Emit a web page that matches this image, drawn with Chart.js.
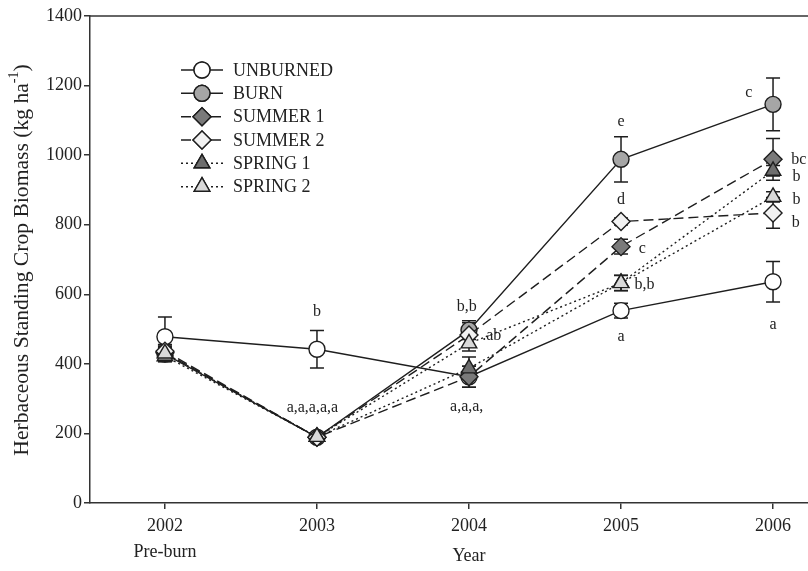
<!DOCTYPE html>
<html>
<head>
<meta charset="utf-8">
<script src="https://cdn.jsdelivr.net/npm/chart.js@4.4.1/dist/chart.umd.min.js"></script>
<style>
html,body{margin:0;padding:0;background:#fff;}
canvas{display:block;}
</style>
</head>
<body>
<canvas id="c" width="808" height="571"></canvas>
<script>
// ---- data ----
const years = [2002, 2003, 2004, 2005, 2006];
const yTicks = [0, 200, 400, 600, 800, 1000, 1200, 1400];
const seriesNames = ['UNBURNED', 'BURN', 'SUMMER 1', 'SUMMER 2', 'SPRING 1', 'SPRING 2'];
const unburned    = [478, 442, 363, 553, 636];
const unburnedErr = [57, 54, 30, 21, 58];
const burn        = [428, 189, 497, 988, 1146];
const burnErr     = [22, 8, 27, 65, 76];
const summer1     = [432, 189, 363, 737, 988];
const summer1Err  = [22, 8, 30, 21, 60];
const summer2     = [436, 189, 483, 809, 834];
const summer2Err  = [20, 8, 35, 10, 44];
const spring1     = [422, 190, 387, 633, 955];
const spring1Err  = [15, 8, 33, 22, 15];
const spring2     = [430, 190, 459, 632, 880];
const spring2Err  = [16, 8, 22, 22, 15];

// significance letters (text, year position, value position)
const letterText = ['b', 'a,a,a,a,a', 'b,b', '.ab', 'a,a,a,', 'e', 'd', 'c', 'b,b', 'a', 'c', 'bc', 'b', 'b', 'b', 'a'];
const letterX    = [2003, 2002.97, 2003.985, 2004.15, 2003.985, 2005, 2005, 2005.14, 2005.155, 2005, 2005.84, 2006.17, 2006.155, 2006.155, 2006.15, 2006];
const letterY    = [550, 273, 564, 480, 277, 1096, 871, 732, 627, 478, 1178, 988, 938, 871, 806, 512];

const FONT = '"Liberation Serif", "Times New Roman", serif';
const INK = '#1e1e1e';

const styles = [
  {style: 'circle',  fill: '#ffffff', dash: [],      r: 8},
  {style: 'circle',  fill: '#a6a6a6', dash: [],      r: 8},
  {style: 'rectRot', fill: '#7a7a7a', dash: [10, 5], r: 9},
  {style: 'rectRot', fill: '#f2f2f2', dash: [10, 5], r: 9},
  {style: 'triangle',fill: '#6e6e6e', dash: [2, 3],  r: 9},
  {style: 'triangle',fill: '#d9d9d9', dash: [2, 3],  r: 9}
];
const values = [unburned, burn, summer1, summer2, spring1, spring2];
const errors = [unburnedErr, burnErr, summer1Err, summer2Err, spring1Err, spring2Err];

const datasets = seriesNames.map((name, i) => ({
  label: name,
  data: years.map((yr, j) => ({x: yr, y: values[i][j]})),
  err: errors[i],
  order: seriesNames.length - i,
  showLine: true,
  clip: false,
  borderColor: INK,
  borderWidth: 1.4,
  borderDash: styles[i].dash,
  backgroundColor: styles[i].fill,
  pointStyle: styles[i].style,
  pointRadius: styles[i].r,
  pointBackgroundColor: styles[i].fill,
  pointBorderColor: INK,
  pointBorderWidth: 1.4,
  tension: 0
}));

const errorBars = {
  id: 'errorBars',
  beforeDatasetsDraw(chart) {
    const {ctx, scales: {x, y}} = chart;
    ctx.save();
    ctx.strokeStyle = INK;
    ctx.lineWidth = 1.5;
    ctx.setLineDash([]);
    chart.data.datasets.forEach(ds => {
      ds.data.forEach((p, j) => {
        const e = ds.err[j];
        const px = x.getPixelForValue(p.x);
        const yt = y.getPixelForValue(p.y + e);
        const yb = y.getPixelForValue(p.y - e);
        ctx.beginPath();
        ctx.moveTo(px, yt); ctx.lineTo(px, yb);
        ctx.moveTo(px - 7, yt); ctx.lineTo(px + 7, yt);
        ctx.moveTo(px - 7, yb); ctx.lineTo(px + 7, yb);
        ctx.stroke();
      });
    });
    ctx.restore();
  }
};

function drawMarker(ctx, st, cx, cy) {
  ctx.save();
  ctx.fillStyle = st.fill;
  ctx.strokeStyle = INK;
  ctx.lineWidth = 1.4;
  ctx.setLineDash([]);
  if (Chart.helpers && Chart.helpers.drawPoint) {
    Chart.helpers.drawPoint(ctx, {pointStyle: st.style, radius: st.r, rotation: 0, borderWidth: 1.4}, cx, cy);
    ctx.fill();
    ctx.stroke();
  }
  ctx.restore();
}

const overlay = {
  id: 'overlay',
  afterDraw(chart) {
    const {ctx, chartArea: a, scales: {x, y}} = chart;
    ctx.save();
    // top frame line
    ctx.strokeStyle = '#333';
    ctx.lineWidth = 1.5;
    ctx.beginPath();
    ctx.moveTo(a.left, a.top); ctx.lineTo(a.right, a.top);
    ctx.stroke();

    // letters
    ctx.fillStyle = '#222';
    ctx.font = '16px ' + FONT;
    ctx.textAlign = 'center';
    ctx.textBaseline = 'middle';
    letterText.forEach((t, i) => {
      ctx.fillText(t, x.getPixelForValue(letterX[i]), y.getPixelForValue(letterY[i]));
    });

    // legend
    const rowY = [70, 93.3, 116.7, 140, 163.3, 186.7];
    seriesNames.forEach((name, i) => {
      const st = styles[i];
      ctx.save();
      ctx.strokeStyle = INK;
      ctx.lineWidth = 1.4;
      ctx.setLineDash(st.dash);
      ctx.beginPath();
      ctx.moveTo(181, rowY[i]); ctx.lineTo(223, rowY[i]);
      ctx.stroke();
      ctx.restore();
      drawMarker(ctx, st, 202, rowY[i]);
      ctx.fillStyle = '#222';
      ctx.textAlign = 'left';
      ctx.textBaseline = 'middle';
      ctx.font = '18px ' + FONT;
      ctx.fillText(name, 233, rowY[i] + 1);
    });

    // x title
    ctx.textAlign = 'center';
    ctx.font = '18px ' + FONT;
    ctx.fillText('Year', x.getPixelForValue(2004), 556);

    // y title with superscript
    ctx.save();
    ctx.translate(22, 260);
    ctx.rotate(-Math.PI / 2);
    ctx.textAlign = 'left';
    ctx.textBaseline = 'middle';
    const mainF = '21.6px ' + FONT, supF = '14px ' + FONT;
    const p1 = 'Herbaceous Standing Crop Biomass (kg ha', p2 = '-1', p3 = ')';
    ctx.font = mainF; const w1 = ctx.measureText(p1).width, w3 = ctx.measureText(p3).width;
    ctx.font = supF; const w2 = ctx.measureText(p2).width;
    let sx = -(w1 + w2 + w3) / 2;
    ctx.font = mainF; ctx.fillText(p1, sx, 0); sx += w1;
    ctx.font = supF; ctx.fillText(p2, sx, -8); sx += w2;
    ctx.font = mainF; ctx.fillText(p3, sx, 0);
    ctx.restore();

    ctx.restore();
  }
};

new Chart(document.getElementById('c'), {
  type: 'scatter',
  data: {datasets},
  options: {
    responsive: false,
    animation: false,
    devicePixelRatio: 1,
    layout: {autoPadding: false, padding: {top: 16, right: 0, left: 0, bottom: 0}},
    plugins: {legend: {display: false}, tooltip: {enabled: false}},
    scales: {
      x: {
        type: 'linear',
        min: 2001.507,
        max: 2006.23,
        afterBuildTicks: s => { s.ticks = years.map(v => ({value: v})); },
        afterFit: s => { s.height = 68; s.paddingRight = 0; s.paddingLeft = 0; },
        border: {display: true, color: '#333', width: 1.5},
        grid: {display: true, drawOnChartArea: false, drawTicks: true, tickLength: 6, color: '#333', lineWidth: 1.5},
        ticks: {
          color: '#222',
          padding: 4,
          maxRotation: 0,
          autoSkip: false,
          font: {family: FONT, size: 18, lineHeight: 1.45},
          callback: v => v === 2002 ? ['2002', 'Pre-burn'] : String(v)
        }
      },
      y: {
        type: 'linear',
        min: 0,
        max: 1400,
        afterBuildTicks: s => { s.ticks = yTicks.map(v => ({value: v})); },
        afterFit: s => { s.width = 90; },
        border: {display: true, color: '#333', width: 1.5},
        grid: {display: true, drawOnChartArea: false, drawTicks: true, tickLength: 6, color: '#333', lineWidth: 1.5},
        ticks: {
          color: '#222',
          padding: 2,
          font: {family: FONT, size: 18},
          callback: v => String(v)
        }
      }
    }
  },
  plugins: [errorBars, overlay]
});
</script>
</body>
</html>
